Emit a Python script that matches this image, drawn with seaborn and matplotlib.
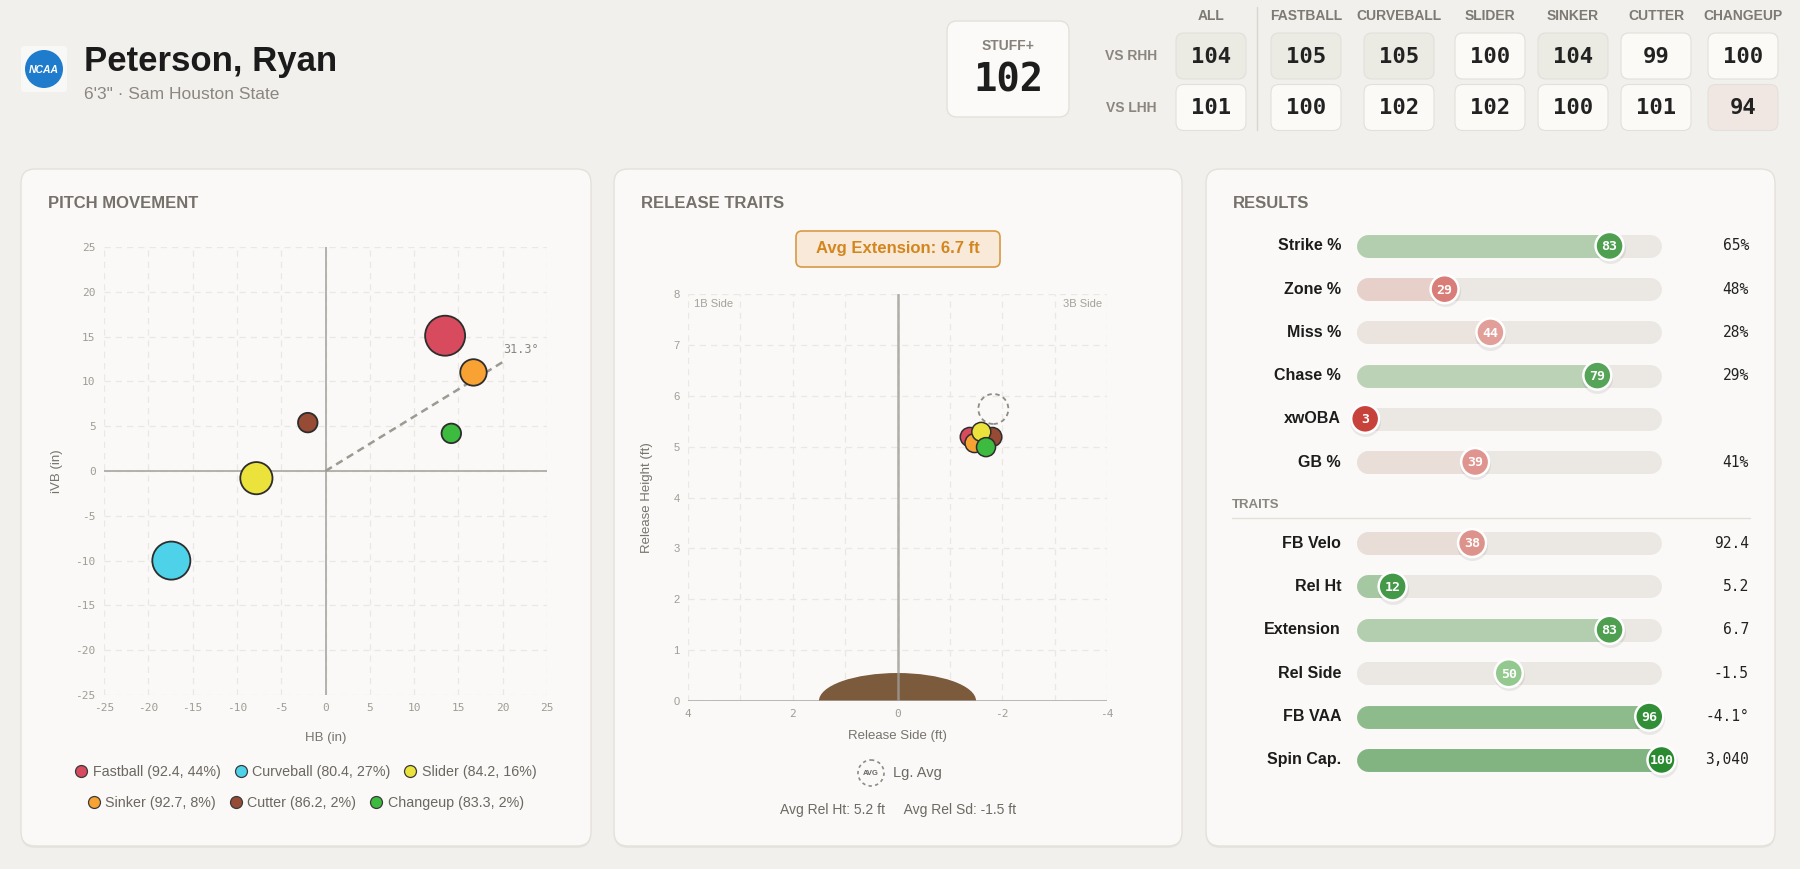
import numpy as np
import pandas as pd
import matplotlib
matplotlib.use("Agg")
import matplotlib.pyplot as plt
import seaborn as sns
from matplotlib.patches import FancyBboxPatch, Circle, Ellipse
from matplotlib.lines import Line2D
from matplotlib.colors import to_rgb

player_name = "Peterson, Ryan"
player_info = "6'3\" · Sam Houston State"

stuff_plus = 102
stuff_cols = ["ALL", "FASTBALL", "CURVEBALL", "SLIDER", "SINKER", "CUTTER", "CHANGEUP"]
stuff_rhh = [104, 105, 105, 100, 104, 99, 100]
stuff_lhh = [101, 100, 102, 102, 100, 101, 94]

pitches = ["Fastball", "Curveball", "Slider", "Sinker", "Cutter", "Changeup"]
pitch_velo = [92.4, 80.4, 84.2, 92.7, 86.2, 83.3]
pitch_usage = [44, 27, 16, 8, 2, 2]
pitch_hb = [13.5, -17.4, -7.8, 16.7, -2.0, 14.2]
pitch_ivb = [15.1, -10.0, -0.8, 11.0, 5.4, 4.2]
arm_angle = 31.3

rel_side = [-1.38, -1.52, -1.60, -1.47, -1.81, -1.69]
rel_height = [5.19, 5.18, 5.29, 5.07, 5.19, 4.99]
lg_avg_side = -1.83
lg_avg_height = 5.74
avg_extension = 6.7
avg_rel_ht = 5.2
avg_rel_sd = -1.5

result_labels = ["Strike %", "Zone %", "Miss %", "Chase %", "xwOBA", "GB %"]
result_pct = [83, 29, 44, 79, 3, 39]
result_values = ["65%", "48%", "28%", "29%", "", "41%"]
result_lower_better = [False] * 6

trait_labels = ["FB Velo", "Rel Ht", "Extension", "Rel Side", "FB VAA", "Spin Cap."]
trait_pct = [38, 12, 83, 50, 96, 100]
trait_values = ["92.4", "5.2", "6.7", "-1.5", "-4.1°", "3,040"]
trait_lower_better = [False, True, False, False, False, False]

pitch_colors = {"Fastball": "#d84a5e", "Curveball": "#4dd2ea", "Slider": "#ebe23c",
                "Sinker": "#f7a233", "Cutter": "#974a34", "Changeup": "#3dbb3f"}

# ---- style ----
sns.set_theme(style="white")
plt.rcParams["font.family"] = ["Liberation Sans", "DejaVu Sans"]
plt.rcParams["axes.unicode_minus"] = False
MONO = "DejaVu Sans Mono"
NARROW = ["Liberation Sans Narrow", "Liberation Sans"]
BG = "#f2f0ec"
CARD = "#faf9f7"
GRAY = "#a09c95"
GRID = "#ebe8e3"
TRACK = "#ebe8e3"

W, H = 1800, 869
fig = plt.figure(figsize=(W / 100, H / 100), dpi=100, facecolor=BG)
bg = fig.add_axes([0, 0, 1, 1], zorder=0)
bg.set_xlim(0, W)
bg.set_ylim(H, 0)
bg.axis("off")


def px_axes(l, t, r, b):
    ax = fig.add_axes([l / W, 1 - b / H, (r - l) / W, (b - t) / H], zorder=2)
    ax.set_facecolor("none")
    return ax


def rbox(x, y, w, h, r, **kw):
    bg.add_patch(FancyBboxPatch((x, y), w, h, boxstyle=f"round,pad=0,rounding_size={r}", **kw))


def mix(c1, c2, t):
    a, b = np.array(to_rgb(c1)), np.array(to_rgb(c2))
    return tuple(a + (b - a) * t)


def pct_color(g):
    if g >= 50:
        return mix("#93c98f", "#2a8a30", (g - 50) / 50)
    return mix("#e6ada8", "#c63b35", (50 - g) / 50)


# ---- header ----
rbox(21, 46, 46, 46, 4, fc="#f8f8f6", ec="none")
bg.add_patch(Circle((44, 69), 19, fc="#1f7ccc", ec="none"))
bg.text(44, 70, "NCAA", color="white", fontsize=7.5, fontweight="bold", fontstyle="italic",
        ha="center", va="center")
bg.text(84, 71, player_name, fontsize=25, fontweight="bold", color="#1b1b1b", va="baseline")
bg.text(84, 99, player_info, fontsize=12.5, color="#8b8680", va="baseline")

rbox(947, 21, 122, 96, 10, fc="#fbfaf8", ec="#e4e1db", lw=1)
bg.text(1008, 46, "STUFF+", fontsize=10, fontweight="bold", color="#86827b", family=NARROW,
        ha="center", va="center")
bg.text(1008, 81, str(stuff_plus), family=MONO, fontweight="bold", fontsize=28, color="#1d1d1d",
        ha="center", va="center")

col_x = [1211, 1306, 1399, 1490, 1573, 1656, 1743]
row_y = [56, 107.5]
for label, y in zip(["VS RHH", "VS LHH"], row_y):
    bg.text(1131, y, label, fontsize=10, fontweight="bold", color="#8a867f", family=NARROW,
            ha="center", va="center")


def stuff_fill(v):
    if v >= 103:
        return "#ebeae3"
    if v <= 96:
        return "#f0e7e3"
    return "#fbfaf7"


for j, col in enumerate(stuff_cols):
    cx = col_x[j]
    bg.text(cx, 16, col, fontsize=10, fontweight="bold", color="#7d7973", family=NARROW,
            ha="center", va="center")
    for y, v in zip(row_y, [stuff_rhh[j], stuff_lhh[j]]):
        rbox(cx - 35, y - 23, 70, 46, 8, fc=stuff_fill(v), ec="#e3e0da", lw=0.8)
        bg.text(cx, y + 1, str(v), family=MONO, fontsize=16, fontweight="bold", color="#222222",
                ha="center", va="center")
bg.plot([1257, 1257], [7, 130], color="#d9d6d0", lw=1)

# ---- cards ----
for x0, x1, title in [(21, 591, "PITCH MOVEMENT"), (614, 1182, "RELEASE TRAITS"), (1206, 1775, "RESULTS")]:
    rbox(x0, 171, x1 - x0, 677, 14, fc="#e8e5e0", ec="none")
    rbox(x0, 169, x1 - x0, 677, 14, fc=CARD, ec="#e4e1db", lw=1)
    bg.text(x0 + 27, 204, title, fontsize=12, fontweight="bold", color="#75716b", va="center")

# ---- pitch movement ----
mv = pd.DataFrame({"pitch": pitches, "hb": pitch_hb, "ivb": pitch_ivb, "usage": pitch_usage})
diam = np.minimum(40, 12.6 + 4.9 * np.sqrt(mv["usage"]))
mv["s"] = (diam * 0.72) ** 2

ax1 = px_axes(104, 247, 547, 695)
ax1.axhline(0, color="#a9a59f", lw=1.2, zorder=1)
ax1.axvline(0, color="#a9a59f", lw=1.2, zorder=1)
L = 23.9
ang = np.radians(arm_angle)
ax1.plot([0, L * np.cos(ang)], [0, L * np.sin(ang)], color="#9d9993", lw=1.8, ls=(0, (3, 2)), zorder=2)
ax1.text(20.0, 13.6, f"{arm_angle}°", family=MONO, fontsize=8.5, color="#8a867f", va="center")
sns.scatterplot(data=mv, x="hb", y="ivb", hue="pitch", palette=pitch_colors, s=mv["s"].values,
                edgecolor="#2d2d2d", linewidth=1.3, legend=False, ax=ax1, zorder=5)
ax1.set_xlim(-25, 25)
ax1.set_ylim(-25, 25)
ax1.set_xticks(range(-25, 26, 5))
ax1.set_yticks(range(-25, 26, 5))
ax1.grid(True, color=GRID, ls=(0, (5, 4)), lw=0.9)
for s in ax1.spines.values():
    s.set_visible(False)
ax1.tick_params(length=0, labelsize=8, colors=GRAY, pad=6)
for t in ax1.get_xticklabels() + ax1.get_yticklabels():
    t.set_fontfamily(MONO)
ax1.set_xlabel("HB (in)", fontsize=9.5, color="#77736d")
ax1.set_ylabel("iVB (in)", fontsize=9.5, color="#77736d")
ax1.xaxis.set_label_coords(0.5, -0.083)
ax1.yaxis.set_label_coords(-0.0925, 0.5)

handles = [Line2D([], [], marker="o", ls="", ms=8.6, mfc=pitch_colors[p], mec="#3a3a3a", mew=0.9)
           for p in pitches]
labels = [f"{p} ({v}, {u}%)" for p, v, u in zip(pitches, pitch_velo, pitch_usage)]
for k, y in enumerate([772, 803]):
    fig.legend(handles[3 * k:3 * k + 3], labels[3 * k:3 * k + 3], ncol=3, loc="center",
               bbox_to_anchor=(306 / W, 1 - y / H), frameon=False, fontsize=10.3,
               labelcolor="#6b6761", handlelength=0.8, handletextpad=0.4, columnspacing=1.0,
               borderpad=0)

# ---- release traits ----
rbox(796, 231, 204, 36, 6, fc="#f8e9d8", ec="#d89a45", lw=1.2)
bg.text(898, 249, f"Avg Extension: {avg_extension} ft", fontsize=12, fontweight="bold",
        color="#d4861e", ha="center", va="center")

rel = pd.DataFrame({"pitch": pitches, "side": rel_side, "height": rel_height})
draw_order = ["Curveball", "Fastball", "Cutter", "Sinker", "Slider", "Changeup"]
rel = rel.set_index("pitch").loc[draw_order].reset_index()

ax2 = px_axes(688, 294, 1107, 701)
ax2.add_patch(Ellipse((0, 0), 3.0, 1.1, fc="#7c5a3c", ec="none", zorder=2))
ax2.axvline(0, color="#a09c96", lw=1.8, alpha=0.8, zorder=3)
ax2.axhline(0, color="#a9a59f", lw=1.8, zorder=3)
ax2.scatter([lg_avg_side], [lg_avg_height], s=(30 * 0.72) ** 2, facecolors="none",
            edgecolors="#8f8b85", linewidths=1.3, linestyles=(0, (2.5, 2)), zorder=4)
sns.scatterplot(data=rel, x="side", y="height", hue="pitch", palette=pitch_colors, s=(19 * 0.72) ** 2,
                edgecolor="#2d2d2d", linewidth=1.1, legend=False, ax=ax2, zorder=5)
ax2.set_xlim(4, -4)
ax2.set_ylim(0, 8)
ax2.set_xticks([4, 2, 0, -2, -4])
ax2.set_xticks(np.arange(-4, 5, 1), minor=True)
ax2.set_yticks(range(0, 9))
ax2.grid(True, which="both", color=GRID, ls=(0, (5, 4)), lw=0.9)
for s in ax2.spines.values():
    s.set_visible(False)
ax2.tick_params(which="both", length=0, labelsize=8, colors=GRAY, pad=6)
for t in ax2.get_xticklabels():
    t.set_fontfamily(MONO)
ax2.set_xlabel("Release Side (ft)", fontsize=9.5, color="#77736d")
ax2.set_ylabel("Release Height (ft)", fontsize=9.5, color="#77736d")
ax2.xaxis.set_label_coords(0.5, -0.071)
ax2.yaxis.set_label_coords(-0.0835, 0.5)
ax2.text(0.014, 0.975, "1B Side", transform=ax2.transAxes, fontsize=8, color="#a5a19a", va="center")
ax2.text(0.988, 0.975, "3B Side", transform=ax2.transAxes, fontsize=8, color="#a5a19a",
         va="center", ha="right")

bg.add_patch(Circle((871, 773), 13, fill=False, ec="#8f8b85", lw=1.2, ls=(0, (2, 2))))
bg.text(871, 773.5, "AVG", fontsize=5.5, fontweight="bold", color="#666", ha="center", va="center")
bg.text(893, 773, "Lg. Avg", fontsize=10.5, color="#6d6963", va="center")
bg.text(898, 810, f"Avg Rel Ht: {avg_rel_ht} ft     Avg Rel Sd: {avg_rel_sd} ft", fontsize=10,
        color="#6d6963", ha="center", va="center")


# ---- results / traits ----
def draw_bars(ax, labels, pcts, values, lower_better):
    n = len(labels)
    cap = 11.5 / 3.055
    df = pd.DataFrame({"label": labels, "pct": pcts, "row": range(n)})
    good = [100 - p if f else p for p, f in zip(pcts, lower_better)]
    pal = {lab: pct_color(g) for lab, g in zip(labels, good)}
    for i, (lab, p, val, g) in enumerate(zip(labels, pcts, values, good)):
        ax.plot([cap, 100 - cap], [i, i], lw=16.5, color=TRACK, solid_capstyle="round", zorder=1)
        fill = mix(TRACK, pal[lab], 0.55 * abs(g - 50) / 50)
        ax.plot([cap, max(cap, p)], [i, i], lw=16.5, color=fill, solid_capstyle="round", zorder=2)
        ax.text(-4.9, i, lab, ha="right", va="center", fontsize=11.5, fontweight="bold",
                color="#1c1c1c", clip_on=False)
        ax.text(128.6, i, val, ha="right", va="center", family=MONO, fontsize=10.5,
                color="#222222", clip_on=False)
        ax.text(p, i + 0.02, str(p), ha="center", va="center", family=MONO, fontsize=9.5,
                fontweight="bold", color="white", zorder=6, clip_on=False)
    # soft shadow under the percentile dots
    ax.scatter(df["pct"], df["row"] + 0.05, s=(31 * 0.72) ** 2, color="#000000", alpha=0.07,
               linewidths=0, zorder=4, clip_on=False)
    sns.scatterplot(data=df, x="pct", y="row", hue="label", palette=pal, s=(28 * 0.72) ** 2,
                    edgecolor="white", linewidth=1.8, legend=False, ax=ax, zorder=5, clip_on=False)
    ax.set_xlim(0, 100)
    ax.set_ylim(n - 0.5, -0.5)
    ax.axis("off")


ax3 = px_axes(1356, 246 - 21.65, 1661.5, 462 + 21.65)
draw_bars(ax3, result_labels, result_pct, result_values, result_lower_better)
bg.text(1232, 505, "TRAITS", fontsize=9.5, fontweight="bold", color="#8a8680", va="center")
bg.plot([1232, 1750], [518, 518], color="#e3e0da", lw=1)
ax4 = px_axes(1356, 543 - 21.65, 1661.5, 760 + 21.65)
draw_bars(ax4, trait_labels, trait_pct, trait_values, trait_lower_better)

fig.savefig("out.png", dpi=100, facecolor=BG)
